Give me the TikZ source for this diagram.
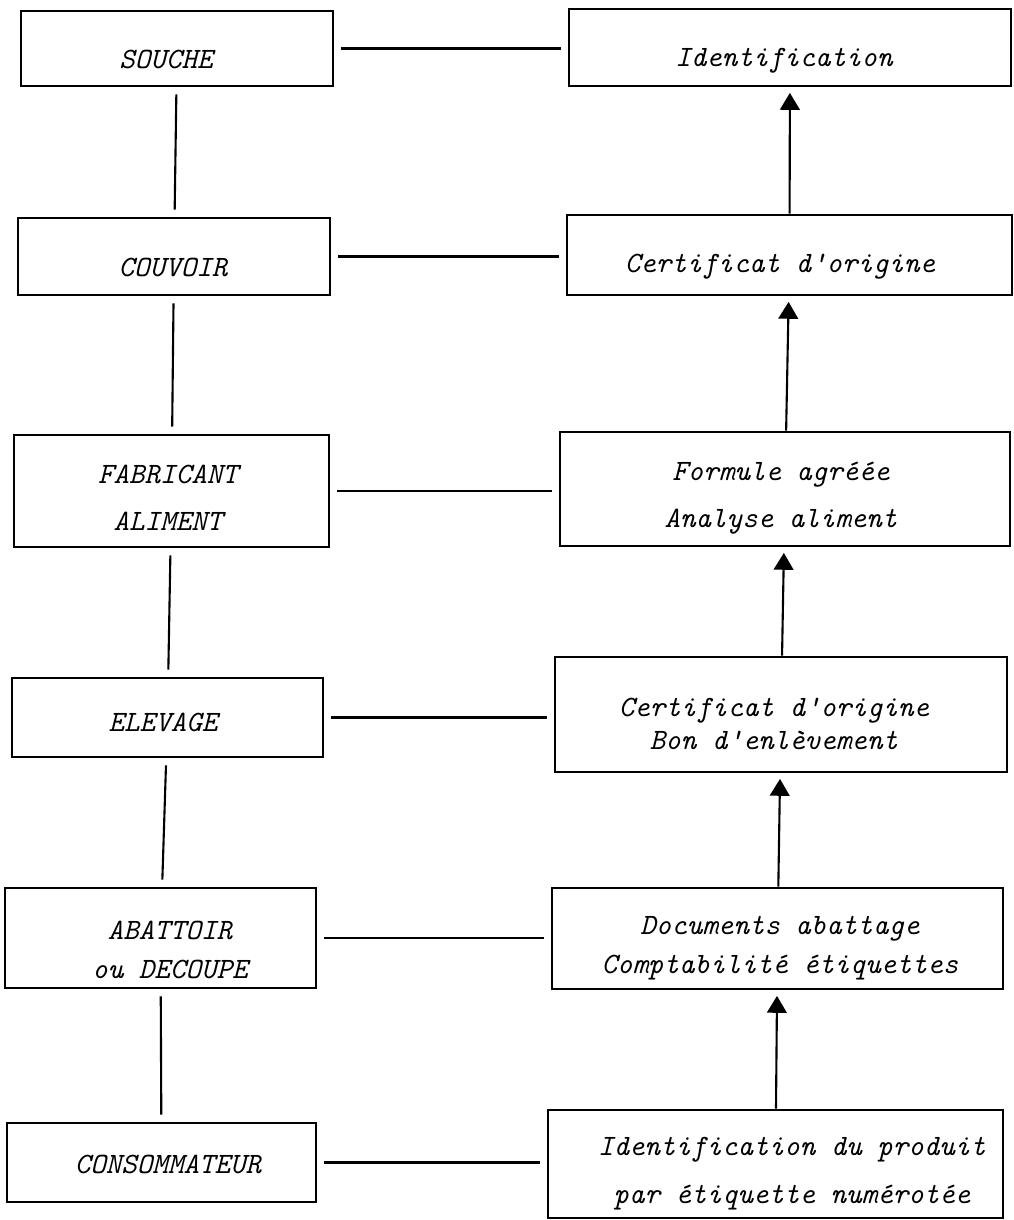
\documentclass[tikz,border=0pt]{standalone}
\usetikzlibrary{arrows.meta}

\begin{document}
\begin{tikzpicture}[x=0.025cm, y=-0.025cm,
                    stagebox/.style={draw, line width=1.8pt, inner sep=0pt},
                    docbox/.style={draw, line width=1.8pt, inner sep=0pt},
                    lbl/.style={align=center, inner sep=0pt,
                                font=\fontsize{21}{28}\selectfont\ttfamily\itshape},
                    link/.style={line width=1.5pt, shorten >=5pt, shorten <=5pt},
                    arr/.style={line width=1.5pt, -{Triangle[width=14pt,length=12pt]},
                                shorten >=4pt}
                ]
    \useasboundingbox (0,0) rectangle (1013,1220);

    % filiere (left)
    \node[stagebox, minimum width=7.8cm, minimum height=1.875cm] (souche) at (177,48.5) {};
    \node[stagebox, minimum width=7.8cm, minimum height=1.925cm] (couvoir) at (174,256.5) {};
    \node[stagebox, minimum width=7.875cm, minimum height=2.8cm] (fabricant) at (171.5,491) {};
    \node[stagebox, minimum width=7.775cm, minimum height=1.975cm] (elevage) at (167.5,717.5) {};
    \node[stagebox, minimum width=7.775cm, minimum height=2.5cm] (abattoir) at (160.5,938) {};
    \node[stagebox, minimum width=7.725cm, minimum height=1.975cm] (consommateur) at (161.5,1162.5) {};

    \node[lbl] (souche-t) at (166,59) {SOUCHE};
    \node[lbl] (couvoir-t) at (173,267) {COUVOIR};
    \node[lbl] (fabricant-t) at (168,498) {FABRICANT\\[5pt]ALIMENT};
    \node[lbl] (elevage-t) at (163,722) {ELEVAGE};
    \node[lbl] (abattoir-t) at (170,950) {ABATTOIR\\ou DECOUPE};
    \node[lbl] (consommateur-t) at (168,1164) {CONSOMMATEUR};

    % documents (right)
    \node[docbox, minimum width=11.05cm, minimum height=1.925cm] (ident) at (790,47.5) {};
    \node[docbox, minimum width=11.125cm, minimum height=2.0cm] (certif) at (789.5,255) {};
    \node[docbox, minimum width=11.25cm, minimum height=2.85cm] (formule) at (785,489) {};
    \node[docbox, minimum width=11.3cm, minimum height=2.875cm] (certbon) at (781,714.5) {};
    \node[docbox, minimum width=11.275cm, minimum height=2.525cm] (documents) at (777.5,938.5) {};
    \node[docbox, minimum width=11.375cm, minimum height=2.7cm] (produit) at (775.5,1164) {};

    \node[lbl] (ident-t) at (784,61) {Identification};
    \node[lbl] (certif-t) at (780,267) {Certificat d'origine};
    \node[lbl] (formule-t) at (781,498) {Formule agréée\\[5pt]Analyse aliment};
    \node[lbl] (certbon-t) at (774,724) {Certificat d'origine\\[-5pt]Bon d'enlèvement};
    \node[lbl] (documents-t) at (780,948) {Documents abattage\\Comptabilité étiquettes};
    \node[lbl] (produit-t) at (792,1174) {Identification du produit\\[6pt]par étiquette numérotée};

    % liaisons
    \draw[link] (souche) -- (couvoir);
    \draw[link] (couvoir) -- (fabricant);
    \draw[link] (fabricant) -- (elevage);
    \draw[link] (elevage) -- (abattoir);
    \draw[link] (abattoir) -- (consommateur);

    \draw[link] (souche.east) -- (souche.east -| ident.west);
    \draw[link] (couvoir.east) -- (couvoir.east -| certif.west);
    \draw[link] (fabricant.east) -- (fabricant.east -| formule.west);
    \draw[link] (elevage.east) -- (elevage.east -| certbon.west);
    \draw[link] (abattoir.east) -- (abattoir.east -| documents.west);
    \draw[link] (consommateur.east) -- (consommateur.east -| produit.west);

    \draw[arr] (certif) -- (ident);
    \draw[arr] (formule) -- (certif);
    \draw[arr] (certbon) -- (formule);
    \draw[arr] (documents) -- (certbon);
    \draw[arr] (produit) -- (documents);
\end{tikzpicture}
\end{document}
